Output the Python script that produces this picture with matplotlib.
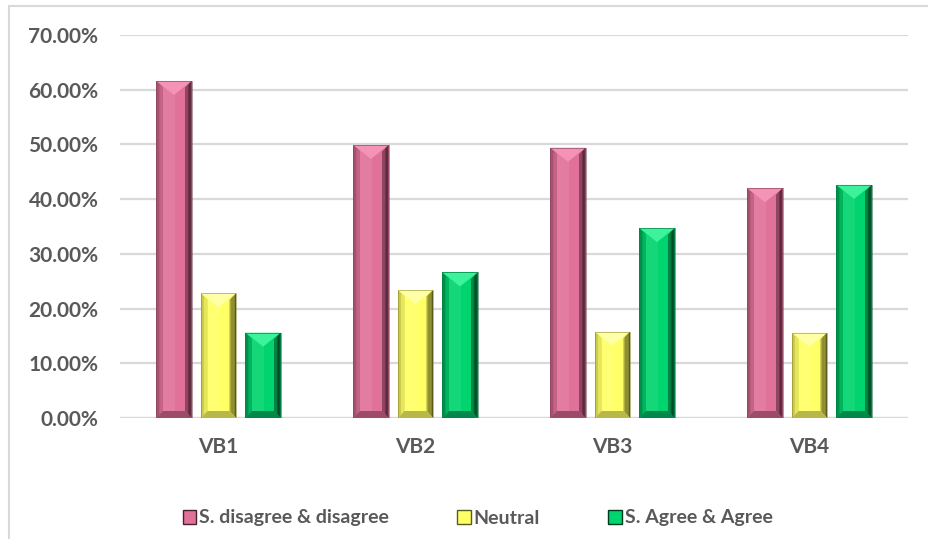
import matplotlib
matplotlib.use("Agg")
import matplotlib.pyplot as plt
from matplotlib.patches import Polygon, Rectangle
from matplotlib.transforms import IdentityTransform
from matplotlib.ticker import FuncFormatter, MultipleLocator
import numpy as np

categories = ["VB1", "VB2", "VB3", "VB4"]
series_names = ["S. disagree & disagree", "Neutral", "S. Agree & Agree"]
disagree = [61.6, 49.9, 49.4, 42.0]
neutral = [22.8, 23.4, 15.8, 15.6]
agree = [15.6, 26.6, 34.7, 42.6]

# body, light top facet, left facet, right facet, bottom facet
palettes = [
    dict(body="#E0729A", top="#F593B6", left="#A4526F", right="#4A1F30", bottom="#9C4C69", edge="#6E3248"),
    dict(body="#FFFF66", top="#FFFFA8", left="#C9C94E", right="#5A5A1C", bottom="#B8B84A", edge="#80802A"),
    dict(body="#00D46E", top="#3CF29A", left="#00904C", right="#003A1E", bottom="#00874A", edge="#005A2C"),
]

text_color = "#595959"
font = "Lato"

W, H = 929, 539
fig = plt.figure(figsize=(W / 100, H / 100), dpi=100)
fig.patch.set_facecolor("white")

ax_left, ax_right, ax_top, ax_bottom = 120, 908, 35, 418
ax = fig.add_axes([ax_left / W, 1 - ax_bottom / H, (ax_right - ax_left) / W, (ax_bottom - ax_top) / H])

x = np.arange(len(categories))
width = 0.178
step = 0.226
all_series = [disagree, neutral, agree]

bar_groups = []
for i, (vals, pal) in enumerate(zip(all_series, palettes)):
    bars = ax.bar(x + (i - 1) * step, vals, width, color=pal["body"], edgecolor="none",
                  label=series_names[i], zorder=3)
    bar_groups.append((bars, pal))

ax.set_xlim(-0.5, len(categories) - 0.5)
ax.set_ylim(0, 70)
ax.yaxis.set_major_locator(MultipleLocator(10))
ax.yaxis.set_major_formatter(FuncFormatter(lambda v, _: f"{v:.2f}%"))
ax.set_xticks(x)
ax.set_xticklabels(categories)
ax.grid(axis="y", color="#d9d9d9", linewidth=1.6, zorder=0)
for s in ax.spines.values():
    s.set_visible(False)
ax.tick_params(axis="both", length=0, colors=text_color, labelsize=15, pad=15.5)
ax.tick_params(axis="x", pad=14)
for lab in ax.get_xticklabels() + ax.get_yticklabels():
    lab.set_fontfamily(font)
    lab.set_fontweight("bold")
    lab.set_color(text_color)
ax.axhline(0, color="#d9d9d9", linewidth=1.6, zorder=2)

# Bevelled facets drawn on top of each bar, in pixel space
fig.canvas.draw()
ident = IdentityTransform()
to_rgb = matplotlib.colors.to_rgb
for bars, pal in bar_groups:
    cb = np.array(to_rgb(pal["body"]))
    cr = np.array(to_rgb(pal["right"]))
    for b in bars:
        ext = b.get_window_extent()
        x0, x1, y0, y1 = ext.x0, ext.x1, ext.y0, ext.y1
        xc = (x0 + x1) / 2
        side = 6.5
        ht = 14.0
        hb = 7.0
        # soft highlight across the face
        ax.add_patch(Rectangle((x0 + side, y0), (x1 - x0) * 0.35, y1 - y0, transform=ident,
                               facecolor="white", alpha=0.08, edgecolor="none", zorder=4))
        # right facet gradient, body tone fading to dark
        n = 5
        for k in range(n):
            a = x1 - side + k * side / n
            t = (k + 1) / n
            col = cb * (1 - t) * 0.55 + cr * (1 - 0.55 * (1 - t))
            ax.add_patch(Polygon([(a, y0 + hb * (1 - k / n)), (a + side / n, y0 + hb * (1 - (k + 1) / n)),
                                  (a + side / n, y1 - side * (1 - (k + 1) / n)), (a, y1 - side * (1 - k / n))],
                                 closed=True, transform=ident, facecolor=col, edgecolor="none", zorder=4))
        # left facet
        ax.add_patch(Polygon([(x0, y0), (x0 + side, y0 + hb), (x0 + side, y1 - side), (x0, y1)],
                             closed=True, transform=ident, facecolor=pal["left"], edgecolor="none", zorder=4))
        ax.add_patch(Polygon([(x0 + side * 0.45, y0 + hb * 0.45), (x0 + side, y0 + hb), (x0 + side, y1 - side),
                              (x0 + side * 0.45, y1 - side * 0.6)],
                             closed=True, transform=ident, facecolor=pal["body"], alpha=0.55,
                             edgecolor="none", zorder=4))
        # bottom facet
        ax.add_patch(Polygon([(x0, y0), (x1, y0), (x1 - side, y0 + hb), (x0 + side, y0 + hb)],
                             closed=True, transform=ident, facecolor=pal["bottom"], edgecolor="none", zorder=5))
        # top facet
        ax.add_patch(Polygon([(x0, y1), (x1, y1), (xc, y1 - ht)],
                             closed=True, transform=ident, facecolor=pal["top"], edgecolor="none", zorder=5))
        # thin outline
        ax.add_patch(Rectangle((x0, y0), x1 - x0, y1 - y0, transform=ident, facecolor="none",
                               edgecolor=pal["edge"], linewidth=0.6, alpha=0.6, zorder=6))

leg = fig.legend(handles=[bg[0] for bg in bar_groups], labels=series_names, loc="center",
                 bbox_to_anchor=(0.514, 1 - 518 / H), ncol=3, frameon=False,
                 handlelength=0.7, handleheight=0.7, handletextpad=0.15, columnspacing=3.5,
                 prop={"family": font, "weight": "bold", "size": 14})
for t in leg.get_texts():
    t.set_color(text_color)
for h, pal in zip(leg.legend_handles, palettes):
    h.set_edgecolor(pal["right"])
    h.set_linewidth(1.0)

# Outer chart-area border
fig.add_artist(Rectangle((9 / W, -0.1), 1.2, 1 - 5.5 / H + 0.1, transform=fig.transFigure,
                         facecolor="none", edgecolor="#d9d9d9", linewidth=1.5))

fig.savefig("out.png", dpi=100)
